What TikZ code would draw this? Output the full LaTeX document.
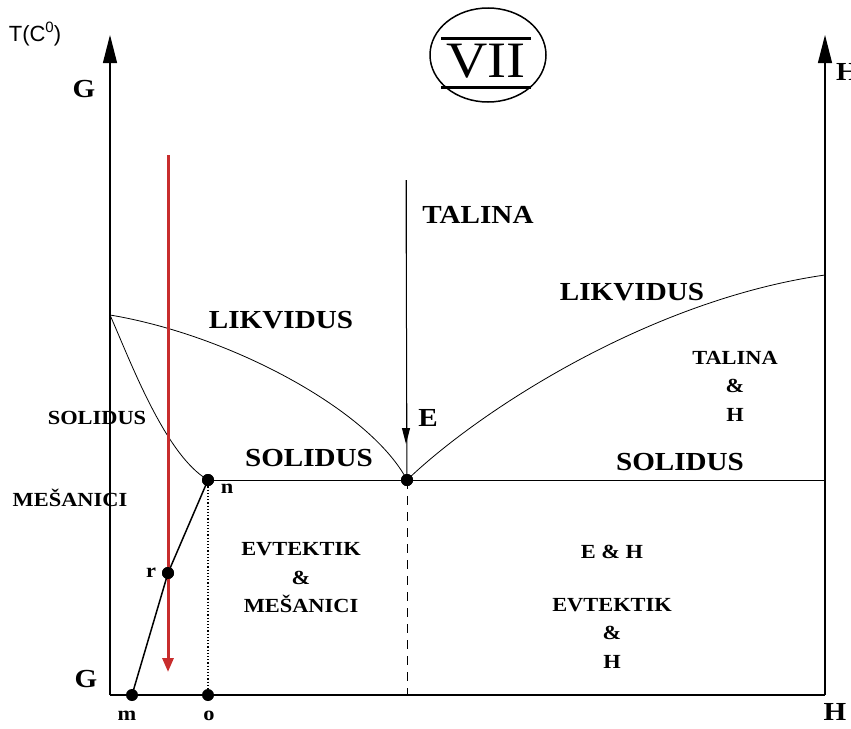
\documentclass[tikz,border=0pt]{standalone}
\usepackage{fontspec}
\setmainfont{Liberation Serif}
\newfontfamily\lblfont[FakeStretch=1.12]{Liberation Serif}
\newfontfamily\axfont{Liberation Sans}
\usetikzlibrary{arrows.meta,shapes.geometric}
\definecolor{coolred}{RGB}{200,45,45}
\begin{document}
\begin{tikzpicture}[x=1pt, y=-1pt,
  dot/.style={circle, fill, inner sep=0pt, minimum size=12pt},
  big/.style={font=\lblfont\bfseries\fontsize{26}{28}\selectfont, inner sep=0pt},
  small/.style={font=\lblfont\bfseries\fontsize{20}{28.5}\selectfont, inner sep=0pt, align=center},
  curve/.style={line width=0.8pt},
  axis/.style={line width=1.2pt, -{Triangle[length=28pt,width=14pt]}}]
\useasboundingbox (0,0) rectangle (851,728);
% frame
\coordinate (Gbot) at (110,695);
\coordinate (Hbot) at (825,695);
\coordinate (Gtop) at (110,35);
\coordinate (Htop) at (825,35);
\draw[axis] (Gbot) -- (Gtop);
\draw[axis] (Hbot) -- (Htop);
\draw[line width=1.2pt] (Gbot) -- (Hbot);
\node[font=\axfont\fontsize{22}{24}\selectfont, inner sep=0pt] (tc) at (35,34)
  {T(C\raisebox{0.45em}{\fontsize{15}{15}\selectfont 0})};
\node[big] (gtl) at (84,89) {G};
\node[big, anchor=west] (htr) at (836,72) {H};
\node[big] (gbl) at (86,679) {G};
\node[big] (hbr) at (835,712) {H};
% title
\node[draw, ellipse, line width=1.5pt, minimum width=116pt, minimum height=94pt] (ring) at (488,55) {};
\node[font=\lblfont\fontsize{51}{51}\selectfont, inner sep=0pt] (vii) at (486,61) {VII};
\coordinate (ov1) at (441,38);
\coordinate (ov2) at (531,38);
\coordinate (un1) at (441,87);
\coordinate (un2) at (531,87);
\draw[line width=3pt] (ov1) -- (ov2);
\draw[line width=3pt] (un1) -- (un2);
% points
\coordinate (L0) at (110,315);
\coordinate (L1) at (825,275);
\coordinate (Sr) at (825,480);
\coordinate (Etop) at (406,180);
\coordinate (Earr) at (406,444);
\coordinate (Ebot) at (407,695);
\coordinate (Rtop) at (168,155);
\coordinate (Rbot) at (168,672);
\node[dot] (n) at (208,480) {};
\node[dot] (E) at (407,480) {};
\node[dot] (m) at (132,695) {};
\node[dot] (o) at (208,695) {};
\node[dot] (r) at (168,573) {};
% curves
\draw[curve] (L0) .. controls (230,335) and (370,410) .. (E.center);
\draw[curve] (E.center) .. controls (480,410) and (650,300) .. (L1);
\draw[curve] (L0) .. controls (130,360) and (165,455) .. (n.center);
\draw[line width=1pt] (n.center) -- (Sr);
\draw[line width=1.5pt] (m.center) -- (r.center) -- (n.center);
\draw[line width=1.2pt, dotted] (n.center) -- (o.center);
\draw[line width=1pt, dash pattern=on 9pt off 7pt] (E.center) -- (Ebot);
\draw[line width=1pt] (Etop) -- (E.center);
\draw[line width=1pt, -{Triangle[length=16pt,width=8pt]}] (Etop) -- (Earr);
\draw[coolred, line width=3pt, -{Triangle[length=14pt,width=11pt]}] (Rtop) -- (Rbot);
\node[dot] at (n) {};
\node[dot] at (E) {};
\node[dot] at (r) {};
% labels
\node[small] (lm) at (127,716) {m};
\node[small] (lo) at (209,716) {o};
\node[small] (lr) at (151,573) {r};
\node[small] (ln) at (227,489) {n};
\node[big] (lE) at (428,418) {E};
\node[big] (tal) at (478,215) {TALINA};
\node[big] (lik1) at (281,320) {LIKVIDUS};
\node[big] (lik2) at (632,292) {LIKVIDUS};
\node[big] (sol1) at (309,458) {SOLIDUS};
\node[big] (sol2) at (680,462) {SOLIDUS};
\node[small] (sol0) at (97,418) {SOLIDUS};
\node[small] (mes) at (70,498) {MEŠANICI};
\node[small] (em) at (301,578) {EVTEKTIK\\\&\\MEŠANICI};
\node[small] (eh) at (612,552) {E \& H};
\node[small] (evh) at (612,633) {EVTEKTIK\\\&\\H};
\node[small] (th) at (735,386) {TALINA\\\&\\H};
\end{tikzpicture}
\end{document}
